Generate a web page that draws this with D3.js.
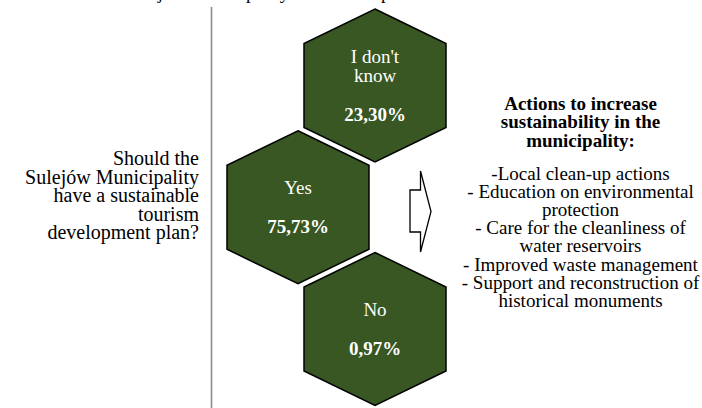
<!DOCTYPE html>
<html>
<head>
<meta charset="utf-8">
<script src="https://cdn.jsdelivr.net/npm/d3@7"></script>
<style>
  html, body { margin: 0; padding: 0; background: #fff; }
  svg text { font-family: "Liberation Serif", "DejaVu Serif", serif; }
</style>
</head>
<body>
<div id="chart"></div>
<script>
// answers to the survey question
var answers = ['I don\'t know', 'Yes', 'No']
var answer_lines = [['I don\'t', 'know'], ['Yes'], ['No']]
var shares = [23.30, 75.73, 0.97]

var question_lines = ['Should the', 'Sulejów Municipality', 'have a sustainable', 'tourism', 'development plan?']
var actions_title = ['Actions to increase', 'sustainability in the', 'municipality:']
var actions_lines = ['-Local clean-up actions', '- Education on environmental', 'protection',
  '- Care for the cleanliness of', 'water reservoirs', '- Improved waste management',
  '- Support and reconstruction of', 'historical monuments']
var top_line = 'Sulejów Municipality as a tourist place'

var w = 702
var h = 408
var fs = 19
var serif = 'Liberation Serif, DejaVu Serif, serif'
var green = '#385723'

var pl = d3.formatLocale({ decimal: ',', thousands: ' ', grouping: [3], currency: ['', ' zł'] })
var fmt = function (v) { return pl.format('.2f')(v) + '%' }

var svg = d3.select('#chart').append('svg')
  .attr('width', w)
  .attr('height', h)
  .attr('viewBox', [0, 0, w, h].join(' '))
  .style('display', 'block')
  .attr('font-family', serif)

// title line that is cut off at the top of the picture
svg.append('text').text(top_line)
  .attr('x', 124)
  .attr('y', -1.5)
  .attr('font-family', serif)
  .style('font-size', fs + 'px')

// divider
svg.append('line')
  .attr('x1', 211.5).attr('x2', 211.5)
  .attr('y1', 7).attr('y2', h)
  .attr('stroke', '#8a8a8a')
  .attr('stroke-width', 1.6)

// question on the left
svg.append('g').selectAll('text')
  .data(question_lines)
  .join('text')
  .text(function (d) { return d })
  .attr('x', 199)
  .attr('y', function (d, i) { return 165 + i * 18.5 })
  .attr('text-anchor', 'end')
  .attr('font-family', serif)
  .style('font-size', '20px')

// hexagons
var y = d3.scalePoint().domain(answers).range([85.5, 329])
var col_x = 375
var col_shift = 77
var hw = 71 // half width
var hh = 76.5 // half height
var sh = 42 // shoulder offset

var hex = d3.line()([[0, -hh], [hw, -(hh - 34.5)], [hw, sh], [0, hh], [-hw, sh], [-hw, -(hh - 34.5)]]) + 'Z'

var lh = 19.5
var cells = svg.append('g').selectAll('g')
  .data(answers)
  .join('g')
  .attr('transform', function (d, i) {
    return 'translate(' + (col_x - (i % 2) * col_shift) + ',' + y(d) + ')'
  })

cells.append('path')
  .attr('d', hex)
  .attr('fill', green)
  .attr('stroke', '#000')
  .attr('stroke-width', 1.5)
  .attr('stroke-linejoin', 'miter')

cells.each(function (d, i) {
  var g = d3.select(this)
  var lines = answer_lines[i]
  var n = lines.length + 2
  var top = -(n - 1) * lh / 2 + 6.5
  lines.forEach(function (t, j) {
    g.append('text').text(t)
      .attr('x', 0)
      .attr('y', top + j * lh)
      .attr('text-anchor', 'middle')
      .attr('fill', '#fff')
      .attr('font-family', serif)
      .style('font-size', fs + 'px')
  })
  g.append('text').text(fmt(shares[i]))
    .attr('x', 0)
    .attr('y', top + (n - 1) * lh)
    .attr('text-anchor', 'middle')
    .attr('fill', '#fff')
    .attr('font-family', serif)
    .style('font-weight', 'bold')
    .style('font-size', fs + 'px')
})

// block arrow
var arrow = [[410, 190], [420.5, 190], [420.5, 171], [431, 211.5], [420.5, 252], [420.5, 232], [410, 232]]
svg.append('path')
  .attr('d', d3.line()(arrow) + 'Z')
  .attr('fill', '#fff')
  .attr('stroke', '#000')
  .attr('stroke-width', 1.3)

// actions on the right
var rx = 580.5
svg.append('g').selectAll('text')
  .data(actions_title)
  .join('text')
  .text(function (d) { return d })
  .attr('x', rx)
  .attr('y', function (d, i) { return 109.5 + i * 18.5 })
  .attr('text-anchor', 'middle')
  .attr('font-family', serif)
  .style('font-weight', 'bold')
  .style('font-size', fs + 'px')

svg.append('g').selectAll('text')
  .data(actions_lines)
  .join('text')
  .text(function (d) { return d })
  .attr('x', rx)
  .attr('y', function (d, i) { return 180 + i * 18.1 })
  .attr('text-anchor', 'middle')
  .attr('font-family', serif)
  .style('font-size', fs + 'px')
</script>
</body>
</html>
